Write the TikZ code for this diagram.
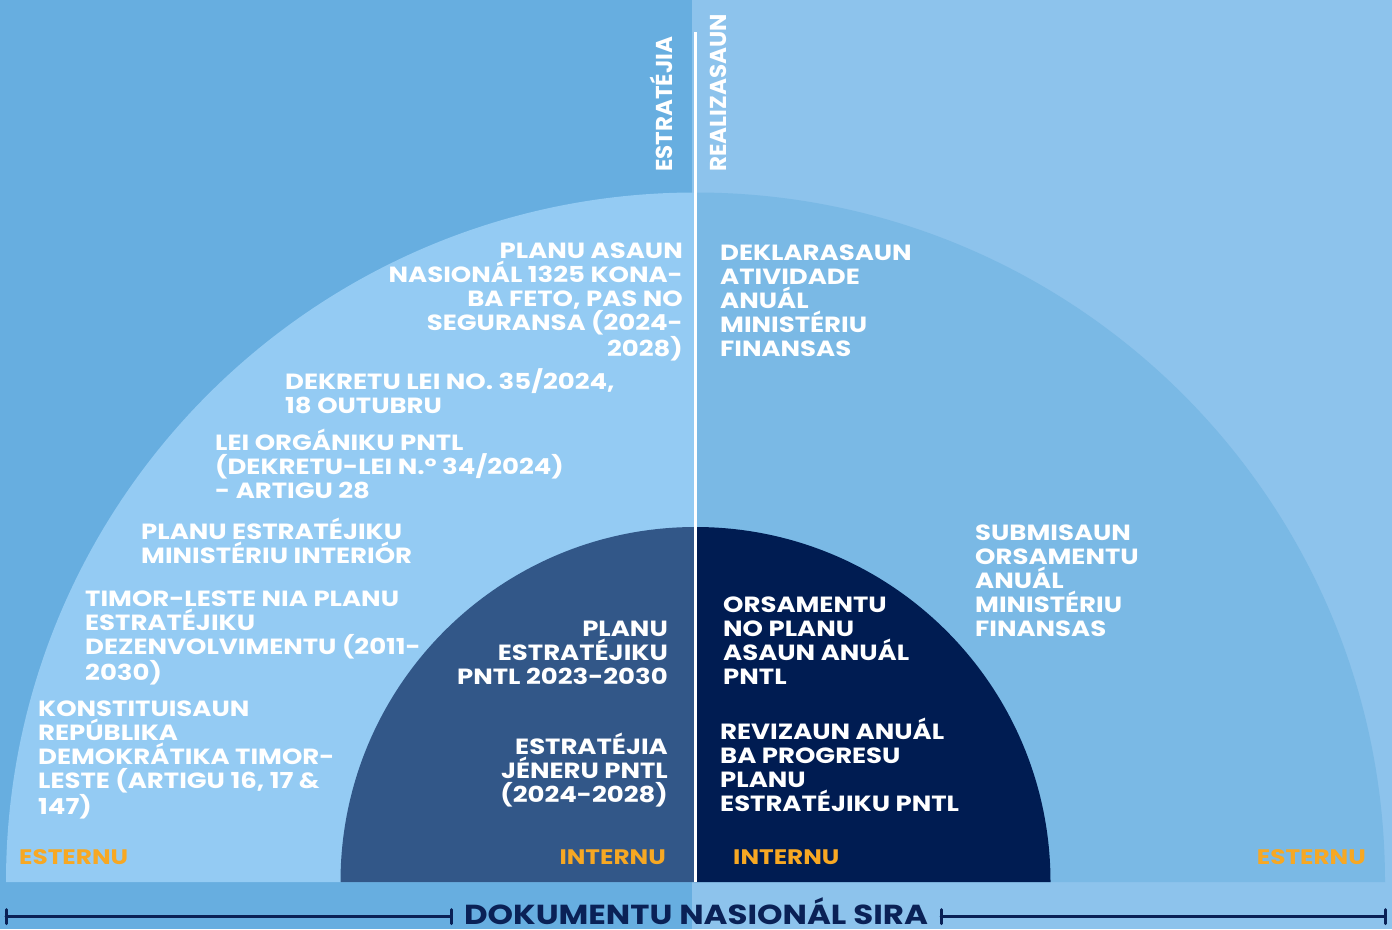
\documentclass[tikz,border=0pt]{standalone}
\usepackage{fontspec}
\setmainfont{Poppins}
\newfontfamily\wide{Poppins}[FakeStretch=1.18]
\definecolor{bgL}{RGB}{103,174,224}
\definecolor{bgR}{RGB}{141,195,236}
\definecolor{bigL}{RGB}{148,203,243}
\definecolor{bigR}{RGB}{122,185,229}
\definecolor{inL}{RGB}{50,87,136}
\definecolor{inR}{RGB}{0,28,82}
\definecolor{navy}{RGB}{10,33,86}
\definecolor{orng}{RGB}{247,168,35}
\tikzset{
  txt/.style={text=white, font=\wide\fontsize{22}{24}\selectfont\bfseries, inner sep=0pt},
  lblock/.style={txt, align=left, anchor=base west},
  rblock/.style={txt, align=right, anchor=base east},
  tag/.style={text=orng, font=\wide\fontsize{21}{24}\selectfont\bfseries, inner sep=0pt},
  vlab/.style={text=white, font=\fontsize{23}{24}\selectfont\bfseries, inner sep=0pt, rotate=90, anchor=base west},
  axis/.style={navy, line width=3pt, line cap=round}
}
\begin{document}
\begin{tikzpicture}[x=1pt,y=-1pt]
\useasboundingbox (0,0) rectangle (1392,929);
% backgrounds
\fill[bgL] (0,0) rectangle (692,929);
\fill[bgR] (692,0) rectangle (1392,929);
% big quarters
\fill[bigL] (695.5,882) -- (6,882) arc[start angle=180,end angle=270,radius=689.5] -- cycle;
\fill[bigR] (695.5,882) -- (695.5,192.5) arc[start angle=270,end angle=360,radius=689.5] -- cycle;
% inner quarters
\fill[inL] (695.5,882) -- (340.5,882) arc[start angle=180,end angle=270,radius=355] -- cycle;
\fill[inR] (695.5,882) -- (695.5,527) arc[start angle=270,end angle=360,radius=355] -- cycle;
% divider
\draw[white, line width=2.5pt] (695.5,32) -- (695.5,882);
% vertical labels
\node[vlab] (estr) at (672,172) {ESTRATÉJIA};
\node[vlab] (real) at (726,172) {REALIZASAUN};
% left outer texts (anchor = baseline of last line)
\node[rblock] (pan) at (683,356) {PLANU ASAUN\\NASIONÁL 1325 KONA-\\BA FETO, PAS NO\\SEGURANSA (2024-\\2028)};
\node[lblock] (dek) at (285,413) {DEKRETU LEI NO. 35/2024,\\18 OUTUBRU};
\node[lblock] (lei) at (215,498) {LEI ORGÁNIKU PNTL\\(DEKRETU-LEI N.° 34/2024)\\- ARTIGU 28};
\node[lblock] (pemi) at (141,563) {PLANU ESTRATÉJIKU\\MINISTÉRIU INTERIÓR};
\node[lblock] (tl) at (85,680) {TIMOR-LESTE NIA PLANU\\ESTRATÉJIKU\\DEZENVOLVIMENTU (2011-\\2030)};
\node[lblock] (kon) at (38,814) {KONSTITUISAUN\\REPÚBLIKA\\DEMOKRÁTIKA TIMOR-\\LESTE (ARTIGU 16, 17 \&\\147)};
\node[tag, anchor=base west] (estL) at (19,864) {ESTERNU};
% left inner
\node[rblock] (pep) at (668,684) {PLANU\\ESTRATÉJIKU\\PNTL 2023-2030};
\node[rblock] (ejp) at (668,802) {ESTRATÉJIA\\JÉNERU PNTL\\(2024-2028)};
\node[tag, anchor=base east] (intL) at (666,864) {INTERNU};
% right outer
\node[lblock] (dekl) at (720,356) {DEKLARASAUN\\ATIVIDADE\\ANUÁL\\MINISTÉRIU\\FINANSAS};
\node[lblock] (sub) at (975,636) {SUBMISAUN\\ORSAMENTU\\ANUÁL\\MINISTÉRIU\\FINANSAS};
\node[tag, anchor=base east] (estR) at (1366,864) {ESTERNU};
% right inner
\node[lblock] (ors) at (723,684) {ORSAMENTU\\NO PLANU\\ASAUN ANUÁL\\PNTL};
\node[lblock] (rev) at (720,811) {REVIZAUN ANUÁL\\BA PROGRESU\\PLANU\\ESTRATÉJIKU PNTL};
\node[tag, anchor=base west] (intR) at (733,864) {INTERNU};
% bottom axis
\node[text=navy, font=\wide\fontsize{27.5}{28}\selectfont\bfseries, inner sep=0pt, anchor=base] (title) at (696,924) {DOKUMENTU NASIONÁL SIRA};
\coordinate (a1) at (6,916.5);
\coordinate (a2) at (451,916.5);
\coordinate (a3) at (941,916.5);
\coordinate (a4) at (1385,916.5);
\draw[axis] (a1) -- (a2);
\draw[axis] (a3) -- (a4);
\draw[axis] ([yshift=-7pt]a1) -- ([yshift=7pt]a1);
\draw[axis] ([yshift=-7pt]a2) -- ([yshift=7pt]a2);
\draw[axis] ([yshift=-7pt]a3) -- ([yshift=7pt]a3);
\draw[axis] ([yshift=-7pt]a4) -- ([yshift=7pt]a4);
\end{tikzpicture}
\end{document}
